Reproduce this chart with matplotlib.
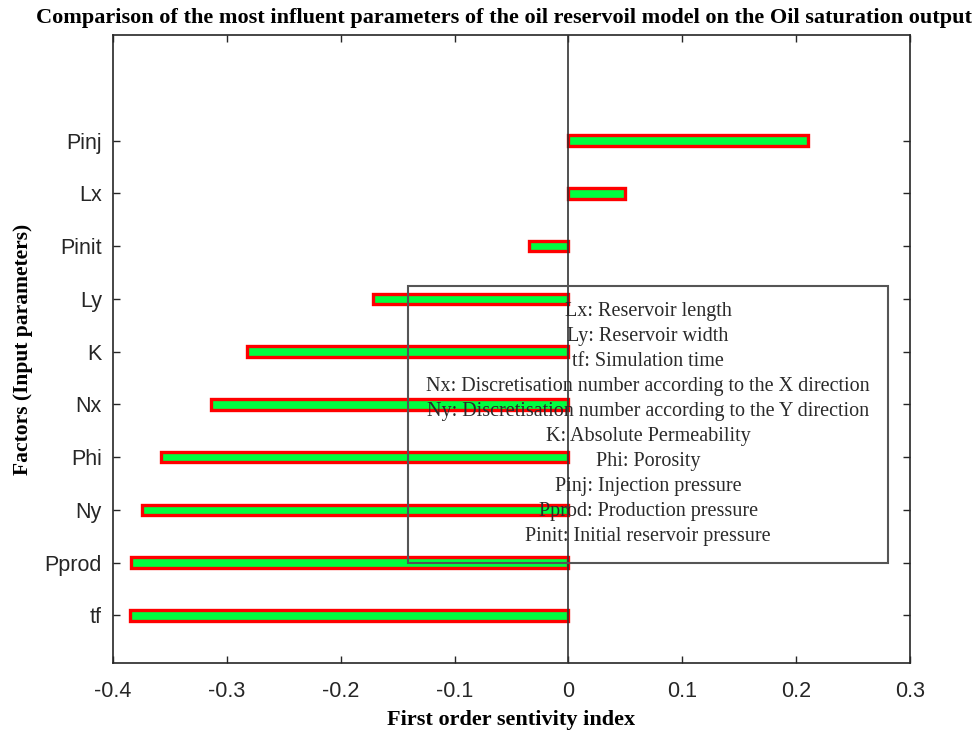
import matplotlib.pyplot as plt
import numpy as np

# First order sensitivity indices for each input factor (bottom to top)
factores = ['tf', 'Pprod', 'Ny', 'Phi', 'Nx', 'K', 'Ly', 'Pinit', 'Lx', 'Pinj']
indices = [-0.385, -0.384, -0.375, -0.358, -0.314, -0.282, -0.172, -0.035, 0.050, 0.210]

leyenda = [
    'Lx: Reservoir length',
    'Ly: Reservoir width',
    'tf: Simulation time',
    'Nx: Discretisation number according to the X direction',
    'Ny: Discretisation number according to the Y direction',
    'K: Absolute Permeability',
    'Phi: Porosity',
    'Pinj: Injection pressure',
    'Pprod: Production pressure',
    'Pinit: Initial reservoir pressure',
]

serif = 'Liberation Serif'
sans = 'Liberation Sans'

fig = plt.figure(figsize=(9.77, 7.36), dpi=100)
ax = fig.add_axes([0.1157, 0.0992, 0.8157, 0.8532])

pos = np.arange(1, len(factores) + 1)
ax.barh(pos, indices, height=0.2, color='#00ff40', edgecolor='#ff0000', linewidth=2.4, zorder=3)
ax.axvline(0, color='#333333', linewidth=1.2, zorder=4)

ax.set_xlim(-0.4, 0.3)
ax.set_ylim(0.1, 12)
ax.set_xticks(np.arange(-0.4, 0.31, 0.1))
ax.set_xticklabels(['-0.4', '-0.3', '-0.2', '-0.1', '0', '0.1', '0.2', '0.3'], fontfamily=sans, fontsize=15.5)
ax.set_yticks(pos)
ax.set_yticklabels(factores, fontfamily=sans, fontsize=15.5)
ax.tick_params(direction='in', top=True, right=True, length=5, width=1, colors='#262626')
ax.tick_params(axis='x', pad=13)
ax.tick_params(axis='y', pad=8)
for s in ax.spines.values():
    s.set_color('#262626')
    s.set_linewidth(1.2)

fig.text(504 / 977, 1 - 18 / 736,
         'Comparison of the most influent parameters of the oil reservoil model on the Oil saturation output',
         ha='center', va='center', fontfamily=serif, fontweight='bold', fontsize=16)
ax.set_xlabel('First order sentivity index', fontfamily=serif, fontweight='bold', fontsize=16, labelpad=6)
ax.set_ylabel('Factors (Input parameters)', fontfamily=serif, fontweight='bold', fontsize=15.5, labelpad=8)

# Caja con la descripcion de cada factor
ax.add_patch(plt.Rectangle((-0.141, 2.0), 0.4217, 5.25, fill=False, edgecolor='#555555',
                           linewidth=1.5, zorder=5))
ax.text(0.07, 4.63, '\n'.join(leyenda), ha='center', va='center', fontfamily=serif,
        fontsize=14.5, linespacing=1.43, color='#2a2a2a', zorder=6)

fig.savefig('out.png', dpi=100)
